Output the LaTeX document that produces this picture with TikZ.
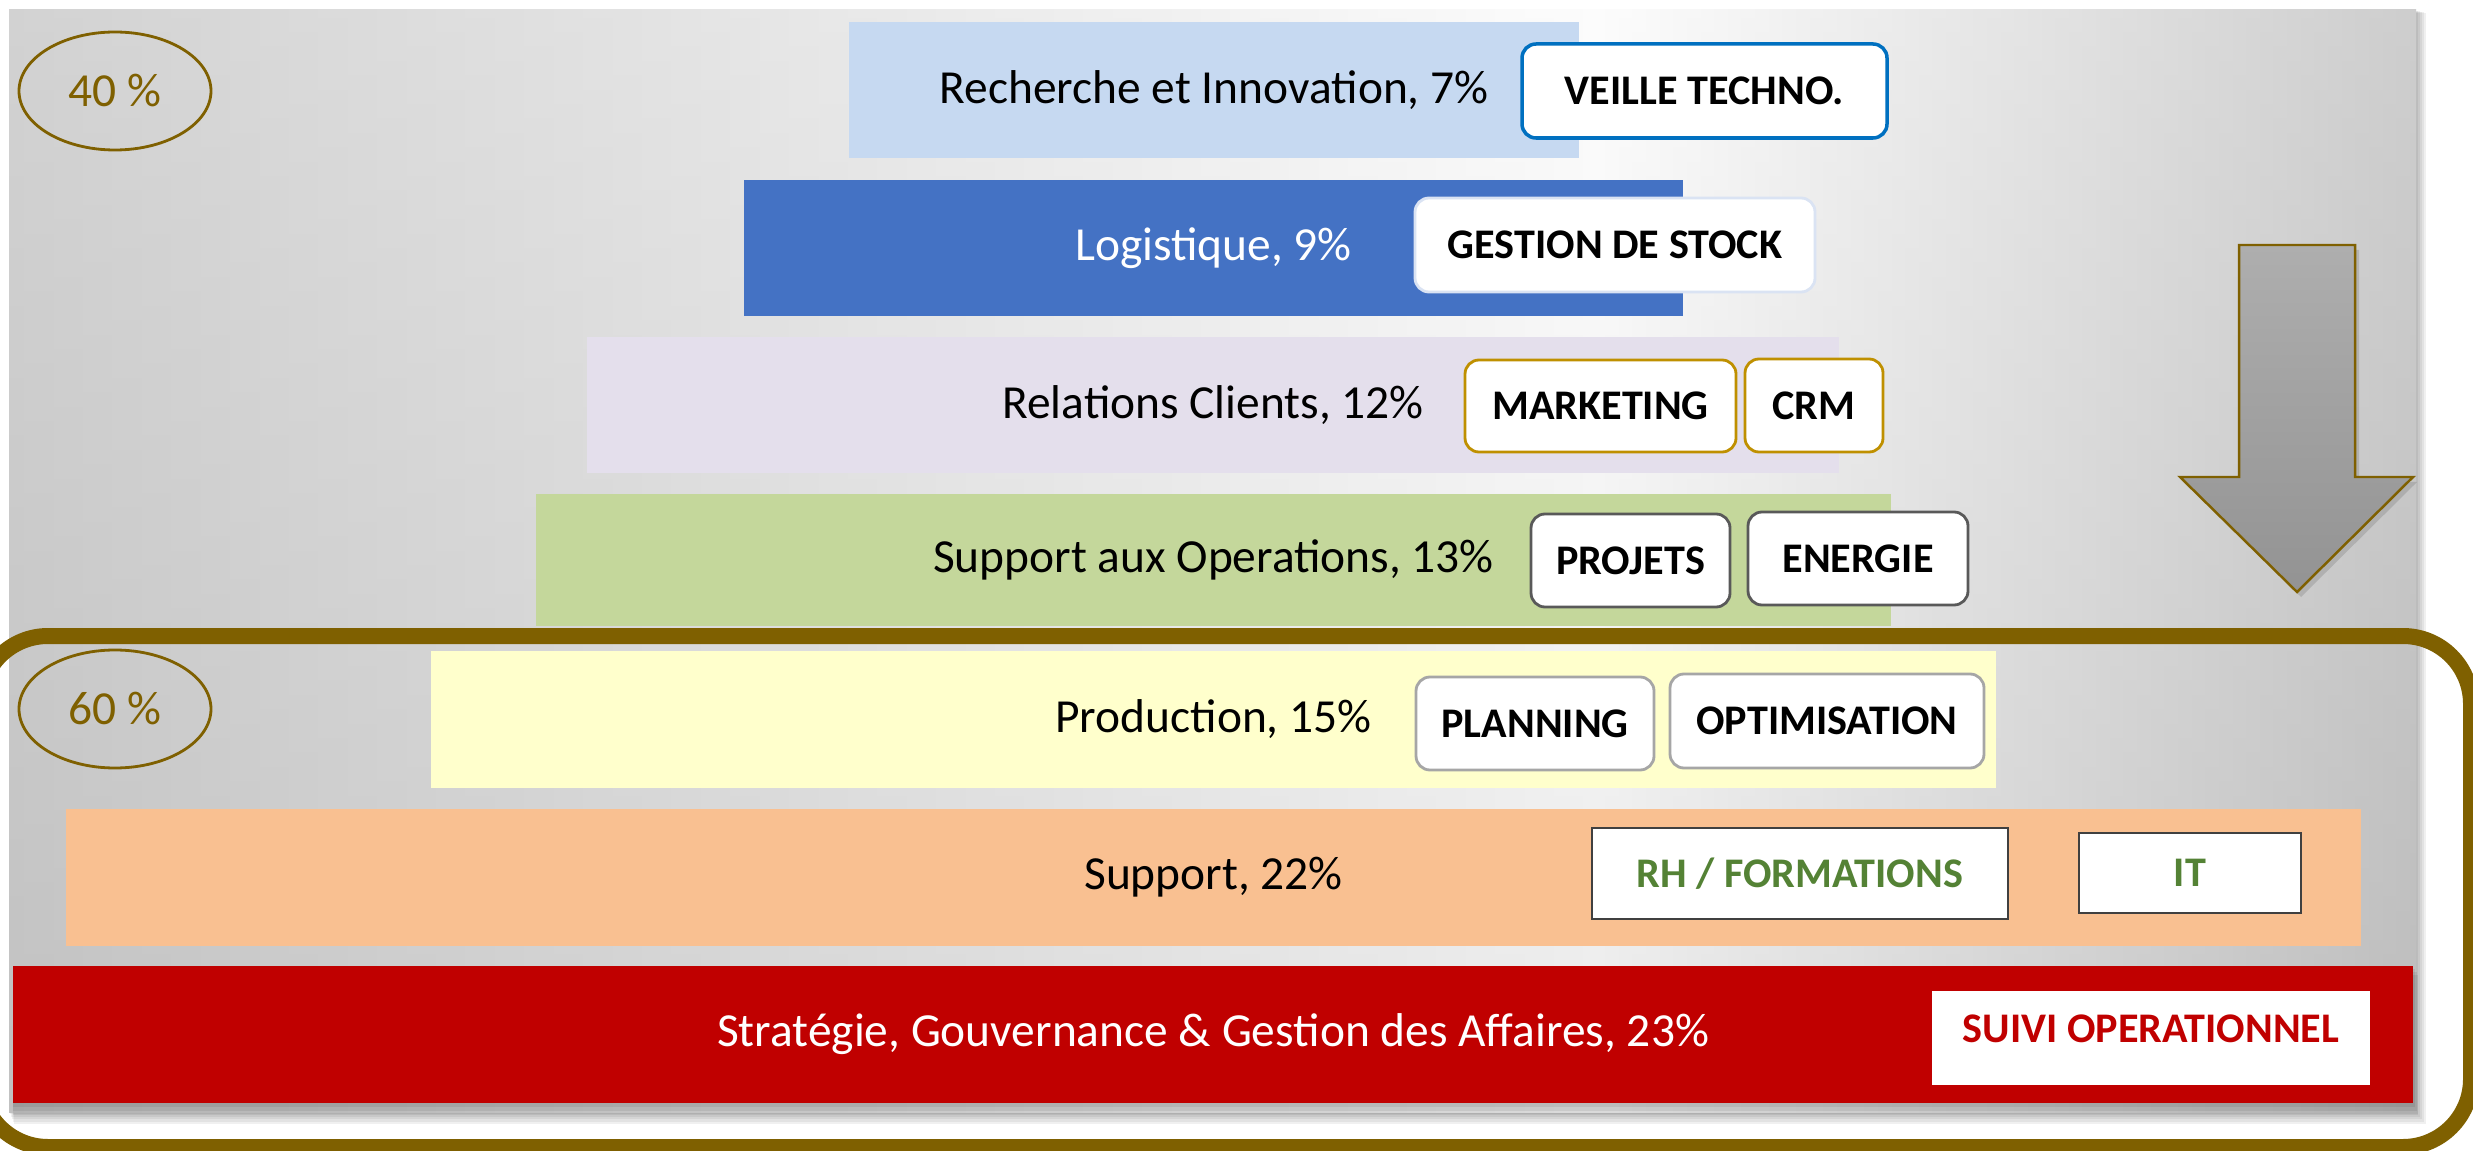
\documentclass[tikz,border=0pt]{standalone}
\usepackage{fontspec}
\setmainfont{Carlito}
\usetikzlibrary{shadows,shapes.geometric}
\newdimen\pxu \pxu=0.02cm
\definecolor{cBrown}{HTML}{7F6000}
\definecolor{bgL}{HTML}{C6C6C6}
\definecolor{bgM}{HTML}{FCFCFC}
\definecolor{bgR}{HTML}{C0C0C0}
\definecolor{cRI}{HTML}{C6D9F1}
\definecolor{cLog}{HTML}{4472C4}
\definecolor{cRel}{HTML}{E4DFEC}
\definecolor{cOps}{HTML}{C4D79B}
\definecolor{cProd}{HTML}{FFFFCC}
\definecolor{cSup}{HTML}{F9C091}
\definecolor{cStr}{HTML}{C00000}
\definecolor{bVeille}{HTML}{0070C0}
\definecolor{bGest}{HTML}{DAE3F3}
\definecolor{bGold}{HTML}{BF9000}
\definecolor{bDark}{HTML}{595959}
\definecolor{bGray}{HTML}{A6A6A6}
\definecolor{bSq}{HTML}{404040}
\definecolor{tGreen}{HTML}{548235}
\definecolor{arTop}{HTML}{AEAEAE}
\definecolor{arBot}{HTML}{939393}
\pgfdeclarehorizontalshading{bgshade}{100bp}{color(0bp)=(bgL); color(25bp)=(bgL); color(58bp)=(bgM); color(75bp)=(bgR); color(100bp)=(bgR)}
\begin{document}
\begin{tikzpicture}[x=0.02cm, y=-0.02cm,
  bar/.style={rectangle, inner sep=0pt, font=\fontsize{27}{32}\selectfont},
  tag/.style={rectangle, rounded corners=14\pxu, fill=white, inner sep=0pt,
     line width=1.6pt, font=\bfseries\fontsize{24}{28}\selectfont},
  sqtag/.style={rectangle, fill=white, inner sep=0pt, draw=bSq, line width=0.9pt,
     text=tGreen, font=\bfseries\fontsize{24}{28}\selectfont},
  pct/.style={ellipse, draw=cBrown, line width=1.6pt, inner sep=0pt,
     minimum width=192\pxu, minimum height=118\pxu, text=cBrown,
     font=\fontsize{27}{32}\selectfont},
  softshadow/.style={fill=black, opacity=0.06}
]
\useasboundingbox (0,0) rectangle (2473,1151);
% soft shadow of the background panel
\foreach \d in {2,4,6,8,10}{
  \fill[softshadow] (9+\d*0.5,10+\d*0.3) rectangle (2416+\d,1112+\d*1.2);
}
% background panel
\shade[shading=bgshade] (9,10) rectangle (2416,1112);
\shade[top color=white, bottom color=black!30, opacity=0.22] (9,10) rectangle (2416,1112);

% shadow under the red bar
\foreach \d in {3,6,9}{
  \fill[black, opacity=0.07] (13,966+\d) rectangle (2413+\d*0.6,1103+\d*1.3);
}

% bars
\node[bar, fill=cRI, minimum width=730\pxu, minimum height=136\pxu] (ri) at (1214,90) {Recherche et Innovation, 7\%};
\node[bar, fill=cLog, text=white, minimum width=939\pxu, minimum height=136\pxu] (log) at (1213.5,248) {Logistique, 9\%};
\node[bar, fill=cRel, minimum width=1252\pxu, minimum height=136\pxu] (rel) at (1213,405) {Relations Clients, 12\%};
\node[bar, fill=cOps, minimum width=1355\pxu, minimum height=132\pxu] (ops) at (1213.5,560) {Support aux Operations, 13\%};
\node[bar, fill=cProd, minimum width=1565\pxu, minimum height=137\pxu] (prod) at (1213.5,719.5) {Production, 15\%};
\node[bar, fill=cSup, minimum width=2295\pxu, minimum height=137\pxu] (sup) at (1213.5,877.5) {Support, 22\%};
\node[bar, fill=cStr, text=white, minimum width=2400\pxu, minimum height=137\pxu] (str) at (1213,1034.5) {Stratégie, Gouvernance \& Gestion des Affaires, 23\%};

% tags
\node[tag, draw=bVeille, line width=2pt, minimum width=365\pxu, minimum height=94\pxu] (veille) at (1704.5,91) {VEILLE TECHNO.};
\node[tag, draw=bGest, minimum width=400\pxu, minimum height=94\pxu] (gest) at (1615,245) {GESTION DE STOCK};
\node[tag, draw=bGold, minimum width=271\pxu, minimum height=92\pxu] (mkt) at (1600.5,406) {MARKETING};
\node[tag, draw=bGold, minimum width=138\pxu, minimum height=93\pxu] (crm) at (1814,405.5) {CRM};
\node[tag, draw=bDark, minimum width=199\pxu, minimum height=93\pxu] (proj) at (1630.5,560.5) {PROJETS};
\node[tag, draw=bDark, minimum width=220\pxu, minimum height=93\pxu] (ener) at (1858,558.5) {ENERGIE};
\node[tag, draw=bGray, minimum width=238\pxu, minimum height=93\pxu] (plan) at (1535,723.5) {PLANNING};
\node[tag, draw=bGray, minimum width=314\pxu, minimum height=94\pxu] (optim) at (1827,721) {OPTIMISATION};
\node[sqtag, minimum width=416\pxu, minimum height=91\pxu] (rh) at (1800,873.5) {RH / FORMATIONS};
\node[sqtag, minimum width=222\pxu, minimum height=80\pxu] (it) at (2190,873) {IT};
\node[rectangle, fill=white, inner sep=0pt, minimum width=438\pxu, minimum height=94\pxu,
      text=cStr, font=\bfseries\fontsize{24}{28}\selectfont] (suivi) at (2151,1038) {\raisebox{19\pxu}{SUIVI OPERATIONNEL}};

% percentage ellipses
\node[pct] (p40) at (115,91) {40 \%};
\node[pct] (p60) at (115,709) {60 \%};

% down arrow
\draw[cBrown, line width=1.4pt, top color=arTop, bottom color=arBot,
      drop shadow={shadow xshift=4\pxu, shadow yshift=-5\pxu, opacity=0.25, fill=black!60}]
  (2239,245) -- (2355,245) -- (2355,477) -- (2413,477) -- (2297,592) -- (2180,477) -- (2239,477) -- cycle;

% brown frame around the 60 % group
\draw[cBrown, line width=16\pxu, rounded corners=68\pxu] (-20,636) rectangle (2471,1147);
\end{tikzpicture}
\end{document}
